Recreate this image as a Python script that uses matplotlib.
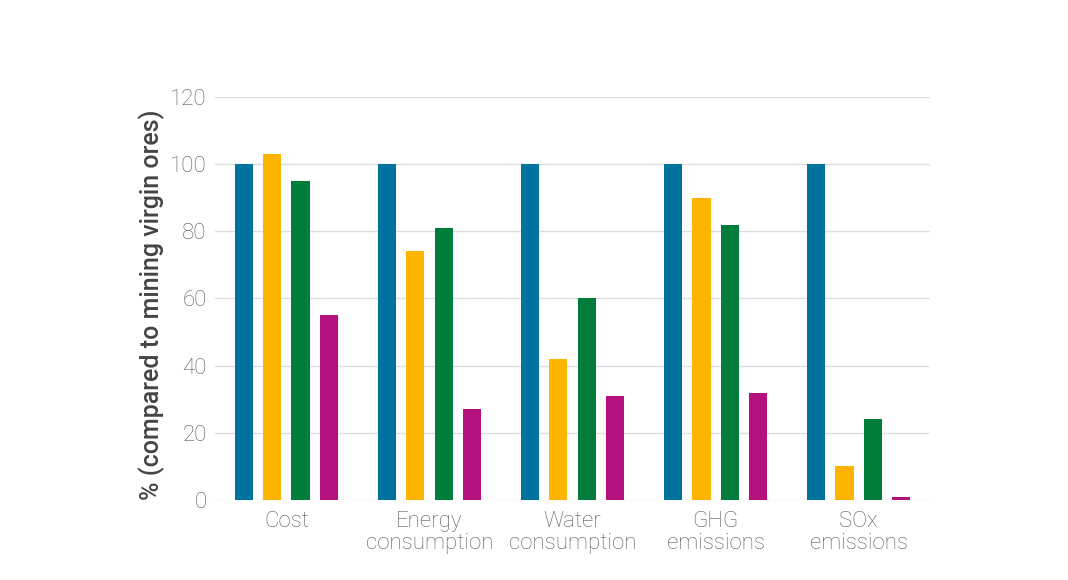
import numpy as np
import matplotlib
matplotlib.use("Agg")
import matplotlib.pyplot as plt

categories = ["Cost", "Energy\nconsumption", "Water\nconsumption", "GHG\nemissions", "SOx\nemissions"]
series_a = [100, 100, 100, 100, 100]
series_b = [103, 74, 42, 90, 10]
series_c = [95, 81, 60, 82, 24]
series_d = [55, 27, 31, 32, 1]
yticks = [0, 20, 40, 60, 80, 100, 120]

colors = ["#0072a0", "#ffb400", "#007d3a", "#b4107e"]

plt.rcParams["font.family"] = ["Roboto", "DejaVu Sans"]

fig = plt.figure(figsize=(10.68, 5.8), dpi=100)
ax = fig.add_axes([0.2013, 0.1379, 0.6695, 0.6949])

x = np.arange(len(categories))
width = 0.126
step = 0.196
for i, (vals, c) in enumerate(zip([series_a, series_b, series_c, series_d], colors)):
    ax.bar(x + (i - 1.5) * step, vals, width=width, color=c, zorder=3)

ax.set_xlim(-0.5, len(categories) - 0.5)
ax.set_ylim(0, 120)
ax.set_yticks(yticks)
ax.set_xticks(x)
ax.set_xticklabels(categories, fontsize=16, color="#5a5a5a", fontweight="light", linespacing=1.05)
ax.tick_params(axis="y", labelsize=16, labelcolor="#5a5a5a", length=0, pad=6)
ax.tick_params(axis="x", length=0, pad=8)
for lbl in ax.get_yticklabels():
    lbl.set_fontweight("light")

ax.yaxis.grid(True, color="#dddddd", linewidth=1, zorder=0)
for s in ax.spines.values():
    s.set_visible(False)

ax.set_ylabel("% (compared to mining virgin ores)", fontsize=18, color="#444444",
              fontweight="medium")
ax.yaxis.set_label_coords(-0.07, 0.485)

fig.savefig("out.png", dpi=100)
